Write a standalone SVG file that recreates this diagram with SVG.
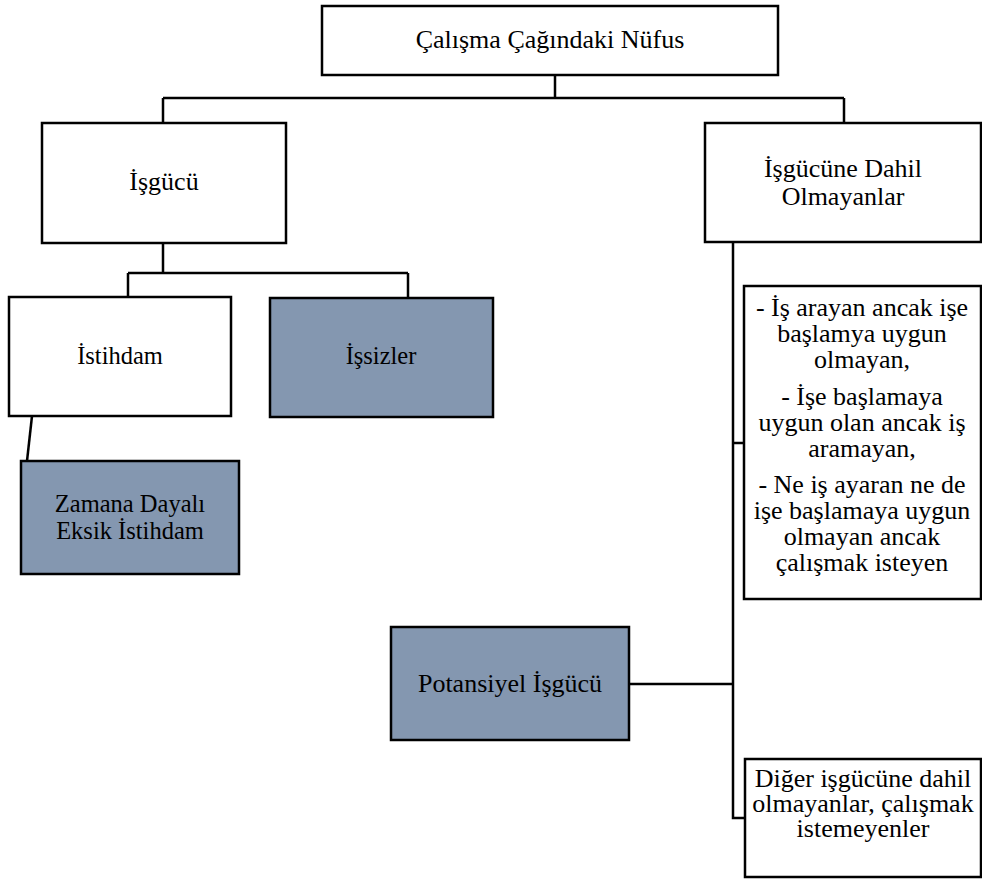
<svg xmlns="http://www.w3.org/2000/svg" width="982" height="880" viewBox="0 0 982 880">
<style>
.box{fill:#fff;stroke:#000;stroke-width:2.5}
.dark{fill:#8497B0;stroke:#000;stroke-width:2.5}
.t{font-family:"Liberation Serif","Times New Roman",serif;font-size:26px;fill:#000;text-anchor:middle}
.s{font-size:24.5px}
.c{fill:none;stroke:#000;stroke-width:2.5}
</style>
<rect width="982" height="880" fill="#fff"/>
<g id="connectors">
<path class="c" d="M555 75V98M163 98H844M163 98V123M844 98V123"/>
<path class="c" d="M163 243V273M128 273H408M128 273V297M408 273V298"/>
<path class="c" d="M32 416L27 461"/>
<path class="c" d="M733 242V818H745M733 443H744M629 684H733"/>
</g>
<g id="n-nufus"><rect class="box" x="322" y="6" width="456" height="69"/><text class="t" x="550" y="48">Çalışma Çağındaki Nüfus</text></g>
<g id="n-isgucu"><rect class="box" x="42" y="123" width="244" height="120"/><text class="t" x="164" y="190">İşgücü</text></g>
<g id="n-dahil-olmayan"><rect class="box" x="705" y="123" width="276" height="119"/><text class="t" x="843" y="177">İşgücüne Dahil</text><text class="t" x="843" y="205">Olmayanlar</text></g>
<g id="n-istihdam"><rect class="box" x="9" y="297" width="222" height="119"/><text class="t s" x="120" y="364">İstihdam</text></g>
<g id="n-issizler"><rect class="dark" x="270" y="298" width="223" height="119"/><text class="t s" x="381" y="364">İşsizler</text></g>
<g id="n-zamana"><rect class="dark" x="21" y="461" width="218" height="113"/><text class="t s" x="130" y="512">Zamana Dayalı</text><text class="t s" x="130" y="539">Eksik İstihdam</text></g>
<g id="n-liste"><rect class="box" x="744" y="286" width="237" height="313"/>
<text class="t" x="862" y="316">- İş arayan ancak işe</text>
<text class="t" x="862" y="342">başlamya uygun</text>
<text class="t" x="862" y="368">olmayan,</text>
<text class="t" x="862" y="405">- İşe başlamaya</text>
<text class="t" x="862" y="431">uygun olan ancak iş</text>
<text class="t" x="862" y="457">aramayan,</text>
<text class="t" x="862" y="493">- Ne iş ayaran ne de</text>
<text class="t" x="862" y="519">işe başlamaya uygun</text>
<text class="t" x="862" y="545">olmayan ancak</text>
<text class="t" x="862" y="571">çalışmak isteyen</text>
</g>
<g id="n-potansiyel"><rect class="dark" x="391" y="627" width="238" height="113"/><text class="t" x="510" y="692">Potansiyel İşgücü</text></g>
<g id="n-diger"><rect class="box" x="745" y="759" width="236" height="118"/>
<text class="t" x="863" y="787">Diğer işgücüne dahil</text>
<text class="t" x="863" y="812">olmayanlar, çalışmak</text>
<text class="t" x="863" y="837">istemeyenler</text>
</g>
</svg>
